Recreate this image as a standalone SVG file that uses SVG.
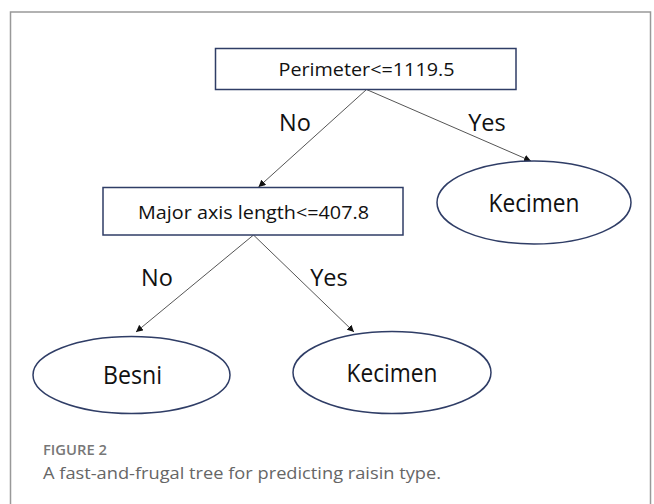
<svg xmlns="http://www.w3.org/2000/svg" width="654" height="504" viewBox="0 0 654 504">
<style>
.box{fill:#fff;stroke:#2f3d66;stroke-width:1.5}
.ell{fill:#fff;stroke:#2f3d66;stroke-width:1.5}
.lbl{font-family:"Open Sans","Liberation Sans",sans-serif;fill:#111;text-anchor:middle}
.edge{stroke:#555;stroke-width:1;fill:none;marker-end:url(#ah)}
.cap{font-family:"Open Sans","Liberation Sans",sans-serif}
</style>
<defs>
<marker id="ah" viewBox="0 0 10 10" refX="10" refY="5" markerWidth="7" markerHeight="7" markerUnits="userSpaceOnUse" orient="auto">
<path d="M0,0 L10,5 L0,10 z" fill="#111"/>
</marker>
</defs>
<rect x="0" y="0" width="654" height="504" fill="#fff"/>
<rect x="10.5" y="12" width="640" height="520" fill="none" stroke="#999" stroke-width="1.5"/>
<g id="connectors">
<line class="edge" x1="366.5" y1="89.5" x2="258.5" y2="187"/>
<line class="edge" x1="366.5" y1="89.5" x2="531" y2="161"/>
<line class="edge" x1="253.5" y1="235" x2="136" y2="332"/>
<line class="edge" x1="253.5" y1="235" x2="354" y2="332"/>
<text class="lbl" x="295" y="131" font-size="23.5">No</text>
<text class="lbl" x="487" y="131" font-size="23.5">Yes</text>
<text class="lbl" x="157" y="286" font-size="23.5">No</text>
<text class="lbl" x="329" y="286" font-size="23.5">Yes</text>
</g>
<g id="perimeter">
<rect class="box" x="215.5" y="48.5" width="300.5" height="41"/>
<text class="lbl" x="366.5" y="76" font-size="18.5" textLength="176" lengthAdjust="spacingAndGlyphs">Perimeter&lt;=1119.5</text>
</g>
<g id="kecimen1">
<ellipse class="ell" cx="534" cy="202.5" rx="97" ry="41.5"/>
<text class="lbl" x="534" y="211.5" font-size="25" textLength="91" lengthAdjust="spacingAndGlyphs">Kecimen</text>
</g>
<g id="majoraxis">
<rect class="box" x="103" y="187.5" width="300" height="47.5"/>
<text class="lbl" x="253.5" y="219" font-size="18.5" textLength="231" lengthAdjust="spacingAndGlyphs">Major axis length&lt;=407.8</text>
</g>
<g id="besni">
<ellipse class="ell" cx="131.5" cy="375" rx="98.5" ry="38.5"/>
<text class="lbl" x="132.5" y="384" font-size="25" textLength="59" lengthAdjust="spacingAndGlyphs">Besni</text>
</g>
<g id="kecimen2">
<ellipse class="ell" cx="392" cy="372.5" rx="99" ry="41"/>
<text class="lbl" x="392" y="382" font-size="25" textLength="91" lengthAdjust="spacingAndGlyphs">Kecimen</text>
</g>
<text class="cap" x="43" y="455" font-size="14" font-weight="600" fill="#777" textLength="64" lengthAdjust="spacingAndGlyphs">FIGURE 2</text>
<text class="cap" x="43" y="479" font-size="17" fill="#666" textLength="398" lengthAdjust="spacingAndGlyphs">A fast-and-frugal tree for predicting raisin type.</text>
</svg>
